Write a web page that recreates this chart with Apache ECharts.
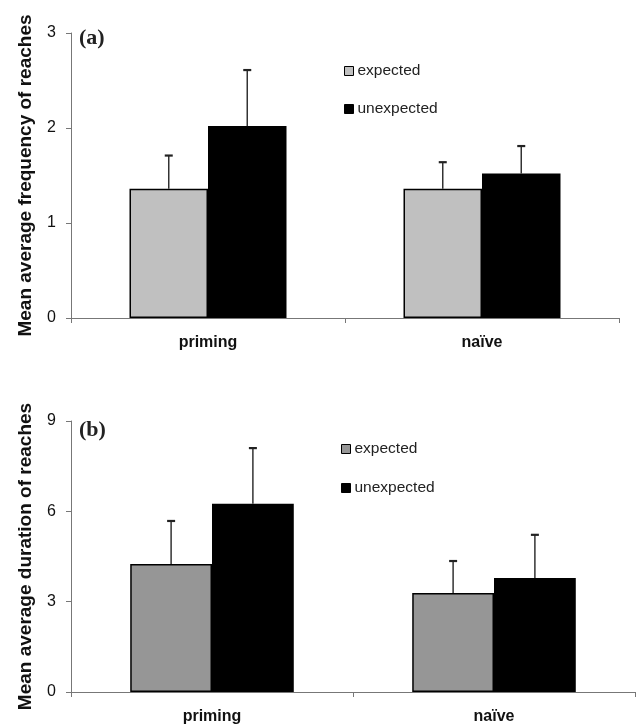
<!DOCTYPE html>
<html>
<head>
<meta charset="utf-8">
<script src="https://cdn.jsdelivr.net/npm/echarts@6/dist/echarts.min.js"></script>
<style>
html,body{margin:0;padding:0;background:#fff;}
#a,#b{width:638px;height:364px;}
</style>
</head>
<body>
<div id="a"></div>
<div id="b"></div>
<script>
// ---- data ----
var categories = ['priming', 'naïve'];
var seriesNames = ['expected', 'unexpected'];
var freqExpected = [1.36, 1.36];
var freqExpectedErr = [0.35, 0.28];
var freqUnexpected = [2.02, 1.52];
var freqUnexpectedErr = [0.59, 0.29];
var durExpected = [4.25, 3.29];
var durExpectedErr = [1.43, 1.06];
var durUnexpected = [6.25, 3.79];
var durUnexpectedErr = [1.85, 1.43];
var freqTicks = {min: 0, max: 3, interval: 1};
var durTicks = {min: 0, max: 9, interval: 3};

var FONT = 'Liberation Sans, Arial, sans-serif';

function errSeries(vals, errs, sign, gapFrac) {
  return {
    type: 'custom',
    z: 5,
    silent: true,
    data: vals.map(function (v, i) { return [i, v, errs[i]]; }),
    encode: {x: 0, y: 1},
    renderItem: function (params, api) {
      var ci = api.value(0), v = api.value(1), e = api.value(2);
      var base = api.coord([ci, v]);
      var top = api.coord([ci, v + e]);
      var band = api.size([1, 0])[0];
      var w = band * (1 - gapFrac) / 2;
      var x = base[0] + sign * w / 2;
      return {
        type: 'group',
        children: [
          {type: 'line', shape: {x1: x, y1: base[1], x2: x, y2: top[1]}, style: {stroke: '#333', lineWidth: 1.5}},
          {type: 'line', shape: {x1: x - 4, y1: top[1], x2: x + 4, y2: top[1]}, style: {stroke: '#222', lineWidth: 2.2}}
        ]
      };
    }
  };
}

function makeOption(cfg) {
  var gapFrac = cfg.gap;
  return {
    animation: false,
    title: {
      text: cfg.tag, left: 79, top: cfg.tagTop, padding: 0,
      textStyle: {fontFamily: 'Liberation Serif, Times New Roman, serif', fontWeight: 'bold', fontSize: 22, color: '#222'}
    },
    legend: {
      orient: 'vertical', left: cfg.legLeft, top: cfg.legTop, padding: 0,
      itemWidth: 9, itemHeight: 9, itemGap: cfg.legGap,
      icon: 'rect',
      data: [
        {name: seriesNames[0], itemStyle: {color: cfg.expColor, borderColor: '#000', borderWidth: 1}},
        {name: seriesNames[1], itemStyle: {color: '#000', borderColor: '#000', borderWidth: 1}}
      ],
      textStyle: {fontFamily: FONT, fontSize: 15.5, color: '#222', padding: [0, 0, 0, -1]},
      selectedMode: false
    },
    grid: {left: 71, right: cfg.right, top: cfg.top, bottom: cfg.bottom, containLabel: false},
    xAxis: {
      type: 'category', data: categories,
      axisLine: {lineStyle: {color: '#777', width: 1}},
      axisTick: {show: true, length: 5, lineStyle: {color: '#777'}},
      axisLabel: {fontFamily: FONT, fontWeight: 'bold', fontSize: 16, color: '#111', margin: 17}
    },
    yAxis: {
      type: 'value', min: cfg.ticks.min, max: cfg.ticks.max, interval: cfg.ticks.interval,
      name: cfg.yName, nameLocation: 'middle', nameGap: 36,
      nameTextStyle: {fontFamily: FONT, fontWeight: 'bold', fontSize: 19, color: '#111'},
      axisLine: {show: true, lineStyle: {color: '#777', width: 1}},
      axisTick: {show: true, length: 5, lineStyle: {color: '#777'}},
      axisLabel: {fontFamily: FONT, fontSize: 16, color: '#111', margin: 15},
      splitLine: {show: false}
    },
    series: [
      {name: seriesNames[0], type: 'bar', data: cfg.exp, barGap: '0%', barCategoryGap: (gapFrac * 100) + '%',
       itemStyle: {color: cfg.expColor, borderColor: '#000', borderWidth: 1.5}},
      {name: seriesNames[1], type: 'bar', data: cfg.unexp, barGap: '0%', barCategoryGap: (gapFrac * 100) + '%',
       itemStyle: {color: '#000', borderColor: '#000', borderWidth: 1.5}},
      errSeries(cfg.exp, cfg.expErr, -1, gapFrac),
      errSeries(cfg.unexp, cfg.unexpErr, 1, gapFrac)
    ]
  };
}

var chartA = echarts.init(document.getElementById('a'));
chartA.setOption(makeOption({
  tag: '(a)', tagTop: 27, legLeft: 344, legTop: 63, legGap: 22,
  expColor: '#c0c0c0', right: 19, top: 33, bottom: 46, gap: 0.427,
  ticks: freqTicks, yName: 'Mean average frequency of reaches',
  exp: freqExpected, expErr: freqExpectedErr, unexp: freqUnexpected, unexpErr: freqUnexpectedErr
}));

var chartB = echarts.init(document.getElementById('b'));
chartB.setOption(makeOption({
  tag: '(b)', tagTop: 55, legLeft: 341, legTop: 77, legGap: 23,
  expColor: '#969696', right: 3, top: 57, bottom: 36, gap: 0.42,
  ticks: durTicks, yName: 'Mean average duration of reaches',
  exp: durExpected, expErr: durExpectedErr, unexp: durUnexpected, unexpErr: durUnexpectedErr
}));
</script>
</body>
</html>
